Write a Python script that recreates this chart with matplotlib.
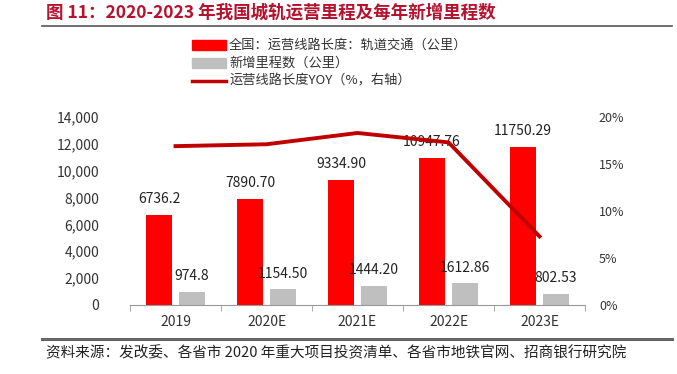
import matplotlib
matplotlib.use("Agg")
from matplotlib import pyplot as plt
from matplotlib.patches import Rectangle
from matplotlib.lines import Line2D
import numpy as np

plt.rcParams['font.family'] = ['Noto Sans CJK SC', 'DejaVu Sans']
plt.rcParams['axes.unicode_minus'] = False

# 数据
years = ['2019', '2020E', '2021E', '2022E', '2023E']
total_km = [6736.2, 7890.70, 9334.90, 10947.76, 11750.29]
total_lbl = ['6736.2', '7890.70', '9334.90', '10947.76', '11750.29']
new_km = [974.8, 1154.50, 1444.20, 1612.86, 802.53]
new_lbl = ['974.8', '1154.50', '1444.20', '1612.86', '802.53']
yoy = [16.9, 17.1, 18.3, 17.3, 7.3]

red = '#FF0000'
grey = '#BFBFBF'
line_red = '#C00000'
txt = '#333333'

fig = plt.figure(figsize=(6.77, 3.74), dpi=100)
ax = fig.add_axes([130 / 677, 1 - 305 / 374, 455 / 677, 188 / 374])
ax2 = ax.twinx()

x = np.arange(len(years))
w = 0.285
ax.bar(x - 0.18, total_km, w, color=red, zorder=2)
ax.bar(x + 0.18, new_km, w, color=grey, zorder=2)
for i in range(len(years)):
    ax.text(x[i] - 0.18, total_km[i] + 650, total_lbl[i], ha='center', va='bottom',
            fontsize=10, color='#222222')
    ax.text(x[i] + 0.18, new_km[i] + 650, new_lbl[i], ha='center', va='bottom',
            fontsize=10, color='#222222')

ax.set_ylim(0, 14000)
ax.set_xlim(-0.5, 4.5)
ax.set_yticks(range(0, 14001, 2000))
ax.set_yticklabels([f'{v:,}' for v in range(0, 14001, 2000)], fontsize=10, color=txt)
ax.set_xticks(x)
ax.set_xticklabels(years, fontsize=10, color=txt)
ax.set_xticks(np.arange(-0.5, 4.6, 1), minor=True)
ax.tick_params(axis='x', which='major', length=0, pad=7)
ax.tick_params(axis='x', which='minor', length=4, color='#999999')
ax.tick_params(axis='y', length=0, pad=22)
for s in ['top', 'left', 'right']:
    ax.spines[s].set_visible(False)
ax.spines['bottom'].set_color('#999999')

ax2.plot(x, yoy, color=line_red, lw=2.8, zorder=5)
ax2.set_ylim(0, 20)
ax2.set_yticks(range(0, 21, 5))
ax2.set_yticklabels([f'{v}%' for v in range(0, 21, 5)], fontsize=9, color=txt)
ax2.tick_params(axis='y', length=0, pad=10)
for s in ['top', 'left', 'right', 'bottom']:
    ax2.spines[s].set_visible(False)

# 标题
fig.text(46 / 677, 1 - 13 / 374, '图 11：2020-2023 年我国城轨运营里程及每年新增里程数',
         fontsize=12.6, fontweight='bold', color='#B5122E', va='center')
fig.add_artist(Line2D([42 / 677, 672 / 677], [1 - 26 / 374] * 2, color='#555555', lw=1.2))

# 图例
leg_items = [('bar', red, '全国：运营线路长度：轨道交通（公里）'),
             ('bar', grey, '新增里程数（公里）'),
             ('line', line_red, '运营线路长度YOY（%，右轴）')]
for k, (kind, c, lab) in enumerate(leg_items):
    yy = 1 - (45 + 18 * k) / 374
    if kind == 'bar':
        fig.add_artist(Rectangle((192 / 677, yy - 5 / 374), 34 / 677, 10 / 374,
                                 color=c, transform=fig.transFigure))
    else:
        fig.add_artist(Line2D([192 / 677, 226 / 677], [yy, yy], color=c, lw=2.5))
    fig.text(229 / 677, yy, lab, fontsize=9.5, color=txt, va='center')

# 底部
fig.add_artist(Line2D([42 / 677, 672 / 677], [1 - 339 / 374] * 2, color='#666666', lw=2.2))
fig.text(46 / 677, 1 - 353 / 374,
         '资料来源：发改委、各省市 2020 年重大项目投资清单、各省市地铁官网、招商银行研究院',
         fontsize=10.5, color='#222222', va='center')

fig.savefig('out.png', dpi=100)
